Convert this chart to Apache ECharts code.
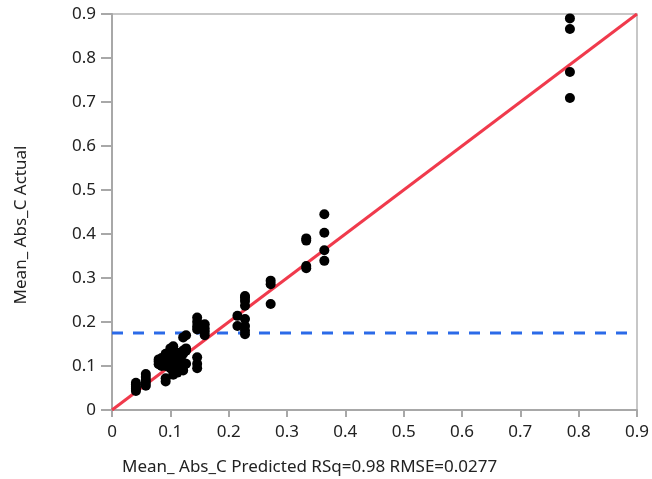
<!DOCTYPE html>
<html>
<head>
<meta charset="utf-8">
<script src="https://cdn.jsdelivr.net/npm/echarts@6/dist/echarts.min.js"></script>
<style>
  html, body { margin: 0; padding: 0; background: #fff; }
  #chart { width: 652px; height: 479px; }
</style>
</head>
<body>
<div id="chart"></div>
<script>
// Predicted vs actual values of Mean_ Abs_C
const predicted = [
  0.041, 0.041, 0.041, 0.041, 0.041,
  0.058, 0.058, 0.058, 0.058, 0.058,
  0.080, 0.080, 0.080,
  0.085, 0.085, 0.085,
  0.092, 0.092, 0.092, 0.092, 0.092, 0.092,
  0.100, 0.100, 0.100, 0.100, 0.100,
  0.105, 0.105, 0.105, 0.105, 0.105,
  0.112, 0.112, 0.112, 0.112,
  0.122, 0.122, 0.122, 0.122, 0.122, 0.122,
  0.127, 0.127, 0.127, 0.127,
  0.146, 0.146, 0.146, 0.146, 0.146, 0.146, 0.146,
  0.159, 0.159, 0.159, 0.159,
  0.215, 0.215,
  0.228, 0.228, 0.228, 0.228, 0.228, 0.228, 0.228, 0.228,
  0.272, 0.272, 0.272,
  0.333, 0.333, 0.333, 0.333,
  0.364, 0.364, 0.364, 0.364,
  0.785, 0.785, 0.785, 0.785
];
const actual = [
  0.043, 0.048, 0.053, 0.058, 0.062,
  0.055, 0.062, 0.068, 0.075, 0.082,
  0.104, 0.110, 0.115,
  0.100, 0.108, 0.118,
  0.065, 0.072, 0.100, 0.112, 0.122, 0.128,
  0.095, 0.105, 0.118, 0.130, 0.140,
  0.080, 0.088, 0.110, 0.125, 0.145,
  0.085, 0.100, 0.120, 0.130,
  0.090, 0.100, 0.108, 0.128, 0.135, 0.165,
  0.105, 0.135, 0.140, 0.170,
  0.095, 0.105, 0.120, 0.183, 0.190, 0.200, 0.210,
  0.170, 0.178, 0.185, 0.195,
  0.191, 0.214,
  0.172, 0.180, 0.191, 0.207, 0.237, 0.248, 0.255, 0.259,
  0.241, 0.286, 0.294,
  0.322, 0.327, 0.385, 0.390,
  0.339, 0.363, 0.403, 0.445,
  0.709, 0.768, 0.866, 0.890
];
const meanActual = 0.175;
const axisMax = 0.9;
const xTitle = 'Mean_ Abs_C Predicted RSq=0.98 RMSE=0.0277';
const yTitle = 'Mean_ Abs_C Actual';

const points = predicted.map((p, i) => [p, actual[i]]);
const font = '"Noto Sans", "Open Sans", sans-serif';
const fontSize = 17;

const chart = echarts.init(document.getElementById('chart'), null, { renderer: 'canvas' });

function axis(tickLen, labelMargin) {
  return {
    type: 'value',
    min: 0,
    max: axisMax,
    interval: 0.1,
    axisLine: { show: true, lineStyle: { color: '#a8a8a8', width: 2 } },
    axisTick: { show: true, length: tickLen, lineStyle: { color: '#a8a8a8', width: 2 } },
    axisLabel: {
      color: '#222', fontFamily: font, fontSize: fontSize, margin: labelMargin,
      formatter: v => (Math.round(v * 10) / 10).toString()
    },
    splitLine: { show: false }
  };
}

chart.setOption({
  animation: false,
  backgroundColor: '#fff',
  grid: {
    left: 112, right: 12, top: 14, bottom: 69,
    show: true, borderColor: '#b5b5b5', borderWidth: 1.5
  },
  xAxis: axis(7, 14),
  yAxis: axis(11, 16),
  series: [
    {
      name: 'Mean',
      type: 'line',
      data: [[0, meanActual], [axisMax, meanActual]],
      symbol: 'none',
      lineStyle: { color: '#2b6ae8', width: 3, type: [11, 10] },
      z: 2
    },
    {
      name: 'Fit',
      type: 'line',
      data: [[0, 0], [axisMax, axisMax]],
      symbol: 'none',
      lineStyle: { color: '#f03a4c', width: 3 },
      z: 3
    },
    {
      name: 'Points',
      type: 'scatter',
      data: points,
      symbolSize: 10,
      itemStyle: { color: '#000', opacity: 1 },
      z: 4
    }
  ],
  graphic: [
    {
      type: 'text',
      x: 122, y: 467,
      style: { text: xTitle, fill: '#222', font: fontSize + 'px ' + font, verticalAlign: 'middle' }
    },
    {
      type: 'text',
      x: 21, y: 225,
      rotation: Math.PI / 2,
      style: {
        text: yTitle, fill: '#222', font: fontSize + 'px ' + font,
        align: 'center', verticalAlign: 'middle'
      }
    }
  ]
});
</script>
</body>
</html>
